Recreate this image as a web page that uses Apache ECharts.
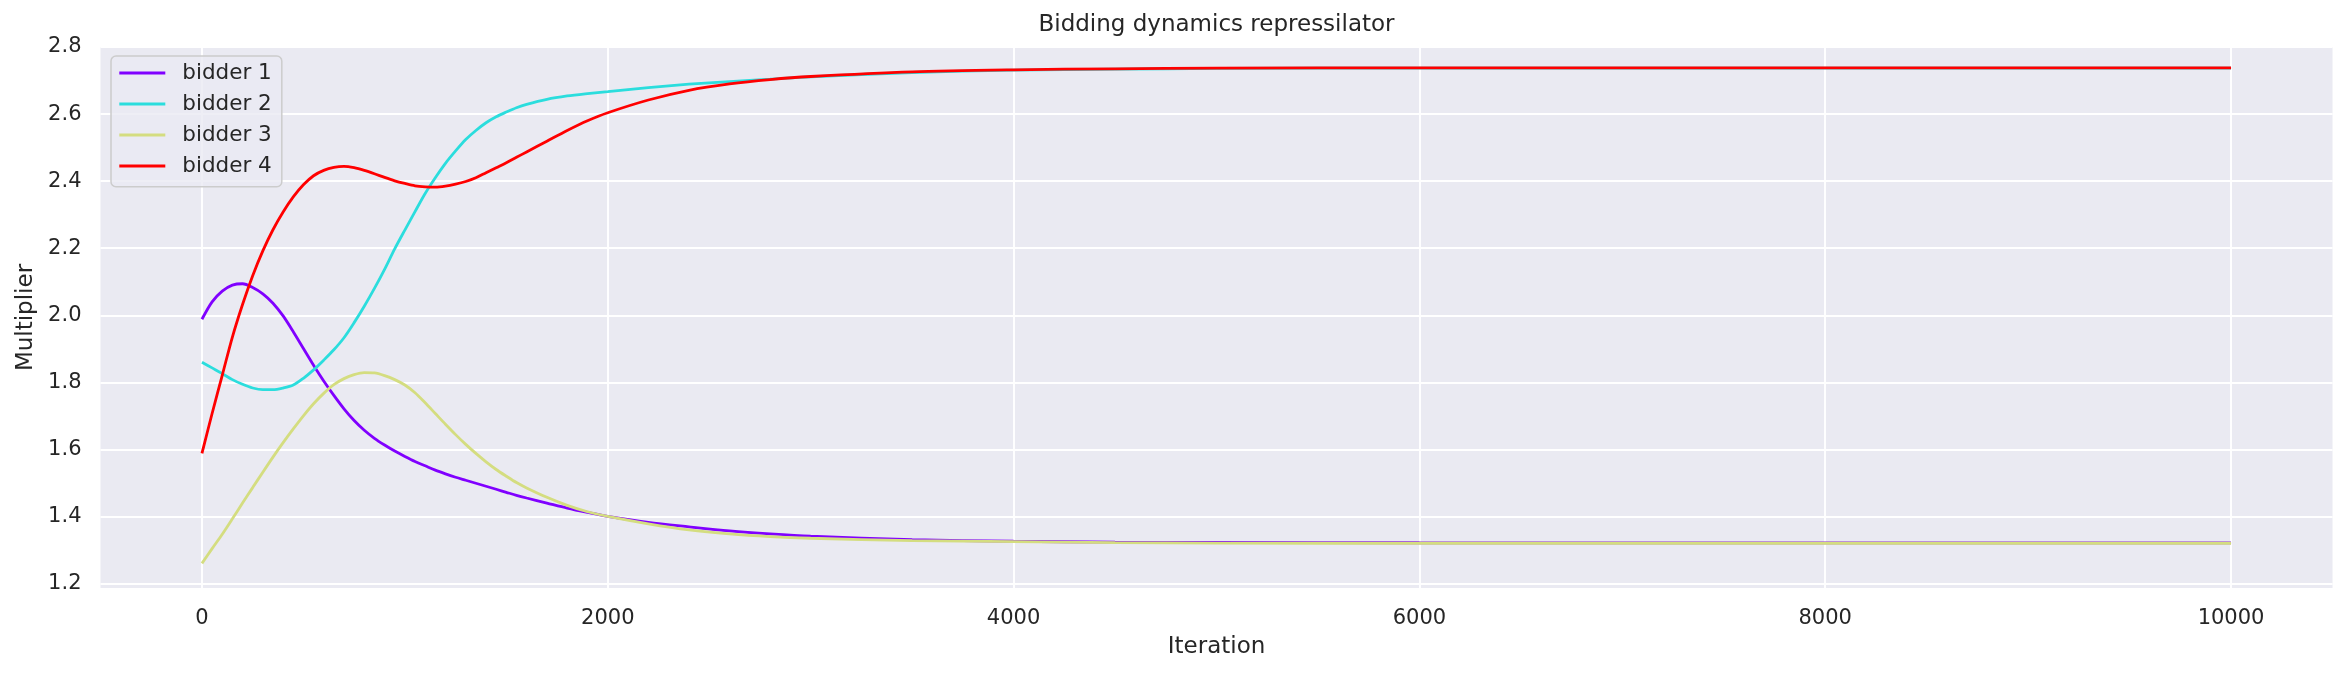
<!DOCTYPE html>
<html><head><meta charset="utf-8">
<script src="https://cdn.jsdelivr.net/npm/echarts@6/dist/echarts.min.js"></script>
<style>html,body{margin:0;padding:0;background:#fff}#c{width:2346px;height:674px}</style>
</head><body><div id="c"></div>
<script>
const iterations = [0,50,100,150,200,250,300,350,400,450,500,550,600,650,700,750,800,850,900,950,1000,1050,1100,1150,1200,1250,1300,1350,1400,1450,1500,1550,1600,1700,1800,1900,2000,2200,2400,2600,2800,3000,3500,4000,4500,5000,6000,7000,8000,9000,10000];
const bidder1 = [1.988,2.040,2.072,2.090,2.094,2.083,2.064,2.036,1.998,1.951,1.901,1.851,1.804,1.761,1.721,1.686,1.657,1.633,1.613,1.595,1.579,1.564,1.551,1.538,1.527,1.517,1.508,1.499,1.490,1.481,1.472,1.463,1.455,1.440,1.425,1.412,1.400,1.382,1.369,1.357,1.348,1.341,1.331,1.326,1.3235,1.3225,1.3215,1.3212,1.3210,1.3210,1.3210];
const bidder2 = [1.860,1.843,1.826,1.808,1.794,1.783,1.778,1.778,1.783,1.792,1.812,1.837,1.866,1.897,1.933,1.978,2.027,2.080,2.137,2.198,2.254,2.309,2.363,2.410,2.453,2.490,2.524,2.551,2.574,2.592,2.606,2.619,2.629,2.644,2.654,2.661,2.667,2.679,2.689,2.697,2.704,2.711,2.724,2.731,2.734,2.736,2.737,2.737,2.737,2.737,2.737];
const bidder3 = [1.260,1.304,1.347,1.393,1.440,1.486,1.532,1.577,1.620,1.661,1.700,1.736,1.767,1.793,1.811,1.823,1.829,1.828,1.820,1.808,1.792,1.769,1.739,1.707,1.675,1.644,1.615,1.588,1.563,1.540,1.520,1.501,1.485,1.457,1.433,1.414,1.400,1.378,1.360,1.348,1.340,1.335,1.328,1.325,1.322,1.3205,1.320,1.320,1.320,1.320,1.320];
const bidder4 = [1.588,1.707,1.821,1.935,2.032,2.118,2.192,2.255,2.308,2.353,2.389,2.416,2.432,2.441,2.444,2.440,2.432,2.422,2.411,2.401,2.393,2.386,2.383,2.382,2.385,2.391,2.399,2.410,2.425,2.440,2.455,2.471,2.487,2.519,2.551,2.580,2.604,2.642,2.671,2.690,2.703,2.712,2.726,2.732,2.735,2.737,2.738,2.738,2.738,2.738,2.738];
const seriesNames = ['bidder 1','bidder 2','bidder 3','bidder 4'];
const xTicks = [0,2000,4000,6000,8000,10000];
const yTicks = [1.2,1.4,1.6,1.8,2.0,2.2,2.4,2.6,2.8];
const titleText = 'Bidding dynamics repressilator';
const xName = 'Iteration';
const yName = 'Multiplier';

const colors = ['#8000ff','#2bdddd','#d4dd80','#ff0000'];
const allValues = [bidder1,bidder2,bidder3,bidder4];
const FONT = '"DejaVu Sans", "Liberation Sans", sans-serif';
const TXT = '#262626';

const chart = echarts.init(document.getElementById('c'), null, {renderer:'canvas'});
chart.setOption({
  animation: false,
  backgroundColor: '#ffffff',
  grid: {left: 100.5, top: 47, width: 2232, height: 541, show: true, backgroundColor: '#EAEAF2', borderWidth: 0, containLabel: false},
  graphic: [{
    type: 'text', x: 1216.5, y: 25,
    style: {text: titleText, fontSize: 23, fontFamily: FONT, fill: TXT, align: 'center', verticalAlign: 'middle'}
  }],
  legend: {
    orient: 'vertical', left: 111, top: 56,
    icon: 'rect',
    itemWidth: 46, itemHeight: 2.9, itemGap: 9,
    padding: [6, 10, 9.7, 8.3],
    backgroundColor: 'rgba(234,234,242,0.8)', borderColor: '#cccccc', borderWidth: 1.5, borderRadius: 5,
    textStyle: {fontFamily: FONT, fontSize: 21.5, color: TXT, padding: [0,0,0,12], lineHeight: 22},
    data: seriesNames
  },
  xAxis: {
    type: 'value', min: -500, max: 10500,
    name: xName, nameLocation: 'middle', nameGap: 48,
    nameTextStyle: {fontFamily: FONT, fontSize: 23, color: TXT},
    axisLine: {show: false},
    axisTick: {show: false, customValues: xTicks},
    axisLabel: {customValues: xTicks, fontFamily: FONT, fontSize: 21, color: TXT, margin: 20, formatter: v => String(v)},
    splitLine: {show: true, lineStyle: {color: '#ffffff', width: 1.9}}
  },
  yAxis: {
    type: 'value', min: 1.1866, max: 2.8,
    name: yName, nameLocation: 'middle', nameGap: 57,
    nameTextStyle: {fontFamily: FONT, fontSize: 23, color: TXT},
    axisLine: {show: false},
    axisTick: {show: false, customValues: yTicks},
    axisLabel: {customValues: yTicks, fontFamily: FONT, fontSize: 21, color: TXT, margin: 19, formatter: v => v.toFixed(1)},
    splitLine: {show: true, lineStyle: {color: '#ffffff', width: 1.9}}
  },
  series: seriesNames.map((n, i) => ({
    name: n, type: 'line',
    data: iterations.map((x, j) => [x, allValues[i][j]]),
    symbol: 'none', smooth: 0.3,
    color: colors[i],
    lineStyle: {color: colors[i], width: 2.8},
    itemStyle: {color: colors[i]},
    z: 2 + i
  }))
});
</script></body></html>
